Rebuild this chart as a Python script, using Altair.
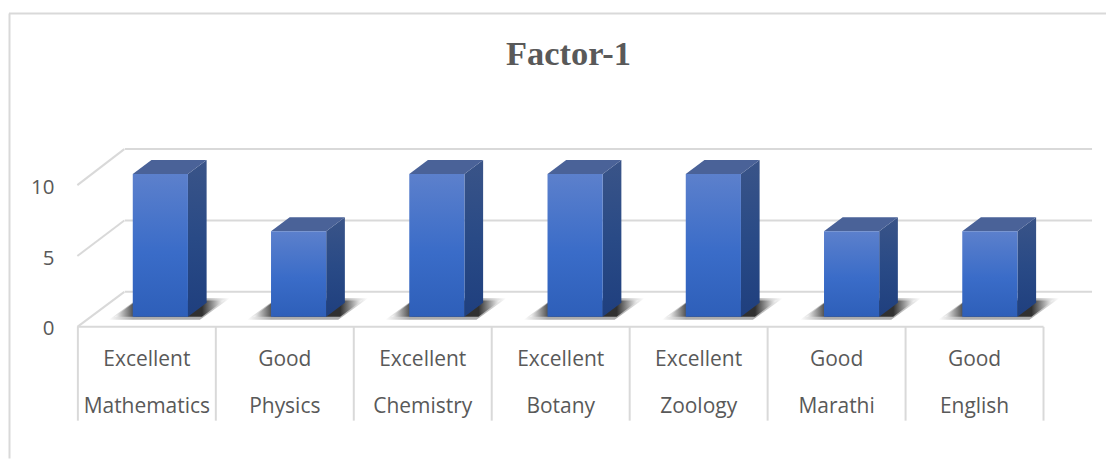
import altair as alt
import pandas as pd

categories = ["Mathematics", "Physics", "Chemistry", "Botany", "Zoology", "Marathi", "English"]
ratings = ["Excellent", "Good", "Excellent", "Excellent", "Excellent", "Good", "Good"]
values = [10, 6, 10, 10, 10, 6, 6]
ticks = [0, 5, 10]
title_text = "Factor-1"

W, H = 1099, 451
UX, UY = 138.2, 14.3
def ux(px): return (px - 77) / UX
def uy(py): return (327 - py) / UY
xs = alt.Scale(domain=[ux(8), ux(8 + W)], range=[0, W], nice=False, zero=False)
ys = alt.Scale(domain=[uy(8 + H), uy(8)], range=[H, 0], nice=False, zero=False)
X = lambda f="x": alt.X(f"{f}:Q", scale=xs, axis=None)
Y = lambda f="y": alt.Y(f"{f}:Q", scale=ys, axis=None)

GRID = "#d9d9d9"
TXT = "#595959"
BAR_W = 0.4
DX = 18.7 / UX
DY = 14.0 / UY
BASE = 0.7
FLOOR_DX = 47 / UX
FLOOR_DY = 35 / UY

def grad(stops, x2=0, y2=1):
    return alt.LinearGradient(gradient="linear", x1=0, y1=0, x2=x2, y2=y2,
                              stops=[alt.GradientStop(color=c, offset=o) for o, c in stops])

front, side, top, shadow, halo = [], [], [], [], []
for i, v in enumerate(values):
    xl = ux(132) + i * 138.5 / UX
    xr = xl + BAR_W
    t = v + 0.7
    front.append(dict(x=xl, x2=xr, y=t, y2=BASE))
    side += [dict(b=i, x=xr, y=t, y2=BASE), dict(b=i, x=xr + DX, y=t + DY, y2=BASE + DY)]
    top += [dict(b=i, y=t, x=xl, x2=xr), dict(b=i, y=t + DY, x=xl + DX, x2=xr + DX)]
    shadow += [dict(b=i, y=BASE, x=xl - 18 / UX, x2=xr + 14 / UX),
               dict(b=i, y=BASE + 1.15, x=xl + 4 / UX, x2=xr + 36 / UX)]
    halo += [dict(b=i, y=BASE - 0.2, x=xl - 24 / UX, x2=xr + 12 / UX),
             dict(b=i, y=BASE + 1.3, x=xl + 6 / UX, x2=xr + 42 / UX)]

layers = []
# outer frame
frame = pd.DataFrame({"a": [0]})
layers.append(alt.Chart(frame).mark_rule(color=GRID, strokeWidth=2).encode(
    x=alt.value(0.5), y=alt.value(5), y2=alt.value(H)))
layers.append(alt.Chart(frame).mark_rule(color=GRID, strokeWidth=2).encode(
    x=alt.value(0), x2=alt.value(W), y=alt.value(5)))

# back wall gridlines, left wall lines, floor
back = pd.DataFrame([dict(x=ux(124), x2=ux(1093), y=v) for v in [2.45 + t for t in ticks]])
layers.append(alt.Chart(back).mark_rule(color=GRID, strokeWidth=2).encode(x=X(), x2="x2:Q", y=Y()))
wall = []
for v in ticks:
    y0 = v * 14.2 / UY
    wall += [dict(k=v, x=ux(76.5), y=y0), dict(k=v, x=ux(76.5) + FLOOR_DX, y=v + FLOOR_DY)]
layers.append(alt.Chart(pd.DataFrame(wall)).mark_line(color=GRID, strokeWidth=2).encode(
    x=X(), y=Y(), detail="k:N"))

# axis table
sep = pd.DataFrame([dict(x=i, y=0, y2=uy(421)) for i in range(len(categories) + 1)])
layers.append(alt.Chart(sep).mark_rule(color=GRID, strokeWidth=2).encode(x=X(), y=Y(), y2="y2:Q"))
layers.append(alt.Chart(pd.DataFrame([dict(x=0, x2=len(categories), y=0)])).mark_rule(
    color=GRID, strokeWidth=2).encode(x=X(), x2="x2:Q", y=Y()))

# shadows
shadow_grad = grad([(0, "#ffffff"), (0.2, "#303030"), (0.8, "#303030"), (1, "#ffffff")], x2=1, y2=0)
layers.append(alt.Chart(pd.DataFrame(halo)).mark_area(
    orient="horizontal", opacity=0.4, color=shadow_grad
).encode(y=Y(), x=X(), x2="x2:Q", detail="b:N"))
layers.append(alt.Chart(pd.DataFrame(shadow)).mark_area(
    orient="horizontal", color=shadow_grad
).encode(y=Y(), x=X(), x2="x2:Q", detail="b:N"))

# bars
layers.append(alt.Chart(pd.DataFrame(side)).mark_area(
    color=grad([(0, "#3a5488"), (0.5, "#294a86"), (1, "#1f3f7e")])
).encode(x=X(), y=Y(), y2="y2:Q", detail="b:N"))
layers.append(alt.Chart(pd.DataFrame(top)).mark_area(
    orient="horizontal", color="#4a6298"
).encode(y=Y(), x=X(), x2="x2:Q", detail="b:N"))
layers.append(alt.Chart(pd.DataFrame(front)).mark_bar(
    color=grad([(0, "#5c80cc"), (0.55, "#3a6cc8"), (1, "#2e5fb9")])
).encode(x=X(), x2="x2:Q", y=Y(), y2="y2:Q"))

# y labels
ylab = pd.DataFrame([dict(x=ux(53.5), y=(t * 14.14 - 2.5) / UY, t=str(t)) for t in ticks])
layers.append(alt.Chart(ylab).mark_text(align="right", baseline="middle", font="Open Sans",
                                         fontSize=20.5, color=TXT).encode(x=X(), y=Y(), text="t:N"))

# category labels
rows = pd.DataFrame({"x": [i + 0.5 for i in range(7)], "r": ratings, "c": categories})
layers.append(alt.Chart(rows).mark_text(baseline="middle", font="Open Sans", fontSize=21, color=TXT).encode(
    x=X(), y=alt.value(360 - 8), text="r:N"))
layers.append(alt.Chart(rows).mark_text(baseline="middle", font="Open Sans", fontSize=21, color=TXT).encode(
    x=X(), y=alt.value(407 - 8), text="c:N"))

# title
layers.append(alt.Chart(pd.DataFrame({"t": [title_text]})).mark_text(
    font="Liberation Serif", fontWeight="bold", fontSize=34.5, color=TXT, baseline="middle"
).encode(x=alt.value(568.5 - 8), y=alt.value(54.5 - 8), text="t:N"))

chart = alt.layer(*layers).properties(
    width=W, height=H, padding=0, background="white"
).configure_view(stroke=None)
chart.save("out.html", embed_options={"renderer": "svg", "actions": False})
